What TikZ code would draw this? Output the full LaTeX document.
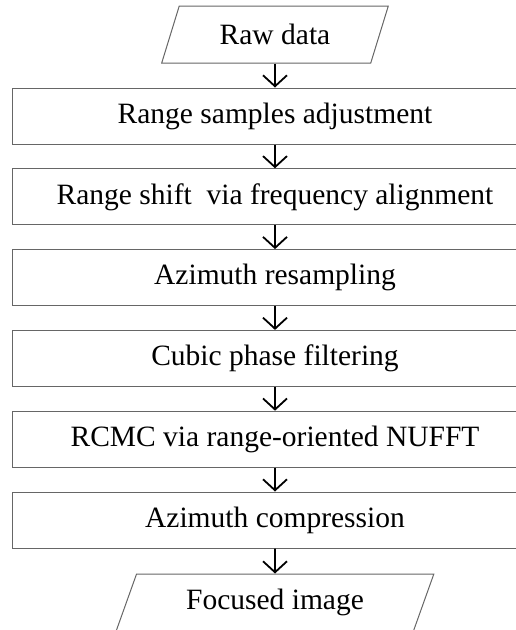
\documentclass[tikz,border=0pt]{standalone}
\usepackage{fontspec}
\setmainfont{Liberation Serif}
\usetikzlibrary{arrows.meta,shapes.geometric}
\begin{document}
\begin{tikzpicture}[x=1pt,y=-1pt,font=\fontsize{29.5}{32}\selectfont]
  \useasboundingbox (0,0) rectangle (515,630);
  \begin{scope}[every node/.style={draw=black!60, line width=1pt, minimum width=526pt, minimum height=56pt, inner sep=0pt}]
    \node (adjust) at (275,116) {Range samples adjustment};
    \node (shift) at (275,196.8) {Range shift\ \ via frequency alignment};
    \node (resample) at (275,277.6) {Azimuth resampling};
    \node (cubic) at (275,358.4) {Cubic phase filtering};
    \node (rcmc) at (275,439.2) {RCMC via range-oriented NUFFT};
    \node (compress) at (275,520) {Azimuth compression};
  \end{scope}
  \begin{scope}[every node/.style={draw=black!60, line width=1pt, trapezium, trapezium stretches=true, trapezium left angle=64, trapezium right angle=116, minimum height=57pt, inner sep=0pt}]
    \node[minimum width=227pt] (raw) at (275,34.5) {Raw data};
    \node[minimum width=318pt] (focused) at (275,602.5) {Focused image};
  \end{scope}
  \begin{scope}[every edge/.style={draw=black, line width=1.8pt, -{Straight Barb[length=11pt,width=24pt]}}]
    \path (raw) edge (adjust);
    \path (adjust) edge (shift);
    \path (shift) edge (resample);
    \path (resample) edge (cubic);
    \path (cubic) edge (rcmc);
    \path (rcmc) edge (compress);
    \path (compress) edge (focused);
  \end{scope}
\end{tikzpicture}
\end{document}
